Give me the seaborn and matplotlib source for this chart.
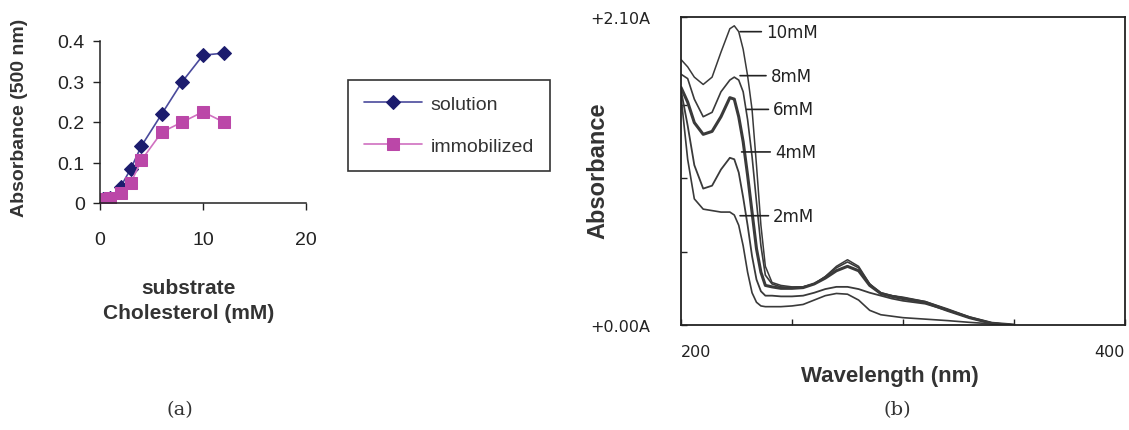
import matplotlib
matplotlib.use("Agg")
import matplotlib.pyplot as plt
import seaborn as sns
import pandas as pd

# ---- panel (a): activity vs substrate concentration ----
conc_mM = [0.25, 0.5, 1, 2, 3, 4, 6, 8, 10, 12]
solution = [0.01, 0.01, 0.012, 0.04, 0.085, 0.14, 0.22, 0.30, 0.365, 0.37]
immobilized = [0.01, 0.01, 0.012, 0.025, 0.05, 0.105, 0.175, 0.20, 0.225, 0.20]

# ---- panel (b): UV spectra for several cholesterol concentrations ----
wavelength = [200, 203, 206, 210, 214, 218, 222, 224, 226, 228, 230, 232, 234,
              236, 238, 241, 245, 250, 255, 260, 265, 270, 275, 280, 285, 290,
              295, 300, 310, 320, 330, 340, 350]
abs_10mM = [1.81, 1.76, 1.69, 1.64, 1.69, 1.86, 2.02, 2.04, 2.00, 1.88, 1.70,
            1.47, 1.09, 0.68, 0.40, 0.29, 0.27, 0.26, 0.26, 0.28, 0.33, 0.40,
            0.445, 0.40, 0.28, 0.21, 0.20, 0.19, 0.16, 0.11, 0.055, 0.015, 0.0]
abs_8mM = [1.71, 1.68, 1.54, 1.42, 1.45, 1.59, 1.67, 1.69, 1.67, 1.59, 1.40,
           1.15, 0.84, 0.54, 0.34, 0.28, 0.26, 0.255, 0.26, 0.28, 0.33, 0.39,
           0.43, 0.39, 0.28, 0.22, 0.20, 0.185, 0.155, 0.105, 0.05, 0.012, 0.0]
abs_6mM = [1.62, 1.52, 1.38, 1.30, 1.32, 1.42, 1.55, 1.54, 1.42, 1.25, 1.02,
           0.77, 0.52, 0.36, 0.27, 0.26, 0.25, 0.25, 0.255, 0.28, 0.32, 0.37,
           0.40, 0.37, 0.27, 0.215, 0.195, 0.18, 0.155, 0.10, 0.05, 0.012, 0.0]
abs_4mM = [1.60, 1.36, 1.09, 0.93, 0.95, 1.06, 1.14, 1.13, 1.04, 0.87, 0.68,
           0.47, 0.31, 0.23, 0.20, 0.20, 0.195, 0.195, 0.20, 0.22, 0.245, 0.26,
           0.26, 0.245, 0.22, 0.20, 0.18, 0.165, 0.145, 0.10, 0.05, 0.012, 0.0]
abs_2mM = [1.56, 1.13, 0.86, 0.79, 0.78, 0.77, 0.77, 0.75, 0.68, 0.54, 0.36,
           0.22, 0.155, 0.13, 0.125, 0.125, 0.125, 0.13, 0.14, 0.17, 0.20, 0.215,
           0.21, 0.17, 0.10, 0.07, 0.06, 0.05, 0.04, 0.03, 0.018, 0.008, 0.0]
spectra_labels = ["10mM", "8mM", "6mM", "4mM", "2mM"]
# label text position (wavelength, absorbance) and where the leader touches the curve
label_xy = [(238.3, 2.00), (240.4, 1.70), (241.5, 1.47), (242.3, 1.18), (241.5, 0.745)]
leader_start = [226.6, 226.6, 229.6, 227.3, 226.6]

sns.set_style("white")
plt.rcParams["font.family"] = ["Liberation Sans", "DejaVu Sans"]

fig = plt.figure(figsize=(11.29, 4.31), dpi=100)
W, H = 1129, 431

# ---------------- panel (a) ----------------
ax1 = fig.add_axes([100 / W, 1 - 204 / H, 206 / W, 162 / H])
df_a = pd.DataFrame({
    "conc": conc_mM * 2,
    "absorbance": solution + immobilized,
    "series": ["solution"] * len(conc_mM) + ["immobilized"] * len(conc_mM),
})
line_cols = {"solution": "#4a4a9c", "immobilized": "#d070c0"}
marker_cols = {"solution": "#1c1c6e", "immobilized": "#bb47a8"}
sns.lineplot(data=df_a, x="conc", y="absorbance", hue="series", style="series",
             hue_order=["solution", "immobilized"], style_order=["solution", "immobilized"],
             palette=line_cols, markers={"solution": "D", "immobilized": "s"},
             dashes=False, errorbar=None, sort=False, legend=False, lw=1.2,
             markersize=8, ax=ax1)
handles = ax1.get_lines()[:2]
for ln, name in zip(handles, ["solution", "immobilized"]):
    ln.set_markerfacecolor(marker_cols[name])
    ln.set_markeredgecolor(marker_cols[name])
    ln.set_markersize(7 if name == "solution" else 8)

ax1.set_xlim(0, 20)
ax1.set_ylim(0, 0.4)
ax1.set_xticks([0, 10, 20])
ax1.set_yticks([0, 0.1, 0.2, 0.3, 0.4])
ax1.set_yticklabels(["0", "0.1", "0.2", "0.3", "0.4"])
ax1.tick_params(axis="x", direction="out", length=5, width=1, pad=15, labelsize=14,
                bottom=True, colors="#222222")
ax1.tick_params(axis="y", direction="out", length=5, width=1, pad=6, labelsize=14,
                left=True, colors="#222222")
for s in ["top", "right"]:
    ax1.spines[s].set_visible(False)
for s in ["left", "bottom"]:
    ax1.spines[s].set_color("#222222")
    ax1.spines[s].set_linewidth(1.1)

ax1.set_xlabel("substrate\nCholesterol (mM)", fontsize=15, fontweight="bold",
               color="#333333", linespacing=1.45, va="top")
ax1.xaxis.set_label_coords(0.432, -0.46)
ax1.set_ylabel("Absorbance (500 nm)", fontsize=14, fontweight="bold", color="#333333")
ax1.yaxis.set_label_coords(-0.35, 0.53)

leg = fig.legend(handles, ["solution", "immobilized"], loc="upper left",
                 bbox_to_anchor=(348 / W, 1 - 81 / H), fontsize=14, frameon=True,
                 fancybox=False, edgecolor="#333333", framealpha=1,
                 handlelength=3.0, labelspacing=1.25, borderpad=0.8,
                 handletextpad=0.45, borderaxespad=0)
leg.get_frame().set_linewidth(1.2)
for t in leg.get_texts():
    t.set_color("#333333")

# ---------------- panel (b) ----------------
ax2 = fig.add_axes([681 / W, 1 - 326 / H, 444 / W, 308 / H])
series = [abs_10mM, abs_8mM, abs_6mM, abs_4mM, abs_2mM]
df_b = pd.DataFrame({
    "wavelength": wavelength * len(series),
    "absorbance": sum(series, []),
    "conc": [lab for lab in spectra_labels for _ in wavelength],
})
sns.lineplot(data=df_b, x="wavelength", y="absorbance", hue="conc",
             hue_order=spectra_labels, palette=["#3a3a3a"] * 5,
             errorbar=None, sort=False, legend=False, lw=1.2, ax=ax2)
widths = {"10mM": 1.1, "8mM": 1.2, "6mM": 2.2, "4mM": 1.3, "2mM": 1.2}
for ln, lab in zip(ax2.get_lines(), spectra_labels):
    ln.set_linewidth(widths[lab])
    ln.set_solid_joinstyle("round")

for lab, (tx, ty), x0 in zip(spectra_labels, label_xy, leader_start):
    ax2.annotate(lab, xy=(x0, ty), xytext=(tx, ty), fontsize=12,
                 family="DejaVu Sans", color="#222222", ha="left", va="center",
                 arrowprops=dict(arrowstyle="-", lw=1.2, color="#222222",
                                 shrinkA=1, shrinkB=0))

ax2.set_xlim(200, 400)
ax2.set_ylim(0, 2.1)
ax2.set_xticks([200, 250, 300, 350, 400])
ax2.set_xticklabels(["200", "", "", "", "400"], family="DejaVu Sans")
ax2.set_yticks([0, 0.5, 1.0, 1.5, 2.1])
ax2.set_yticklabels(["+0.00A", "", "", "", "+2.10A"], family="DejaVu Sans")
xt = ax2.get_xticklabels()
xt[0].set_ha("left")
xt[-1].set_ha("right")
ax2.tick_params(axis="x", direction="in", length=4, width=1, pad=14, labelsize=11.5,
                bottom=True, colors="#222222")
ax2.tick_params(axis="y", direction="in", length=4, width=1, pad=22, labelsize=11.5,
                left=True, colors="#222222")
for s in ax2.spines.values():
    s.set_visible(True)
    s.set_color("#222222")
    s.set_linewidth(1.3)

ax2.set_xlabel("Wavelength (nm)", fontsize=16, fontweight="bold", color="#333333")
ax2.xaxis.set_label_coords(0.471, -0.13)
ax2.set_ylabel("Absorbance", fontsize=17, fontweight="bold", color="#333333")
ax2.yaxis.set_label_coords(-0.162, 0.503)

fig.text(180 / W, 1 - 410 / H, "(a)", ha="center", va="center", fontsize=14,
         family="DejaVu Serif", color="#333333")
fig.text(897 / W, 1 - 410 / H, "(b)", ha="center", va="center", fontsize=14,
         family="DejaVu Serif", color="#333333")

fig.savefig("out.png", dpi=100)
